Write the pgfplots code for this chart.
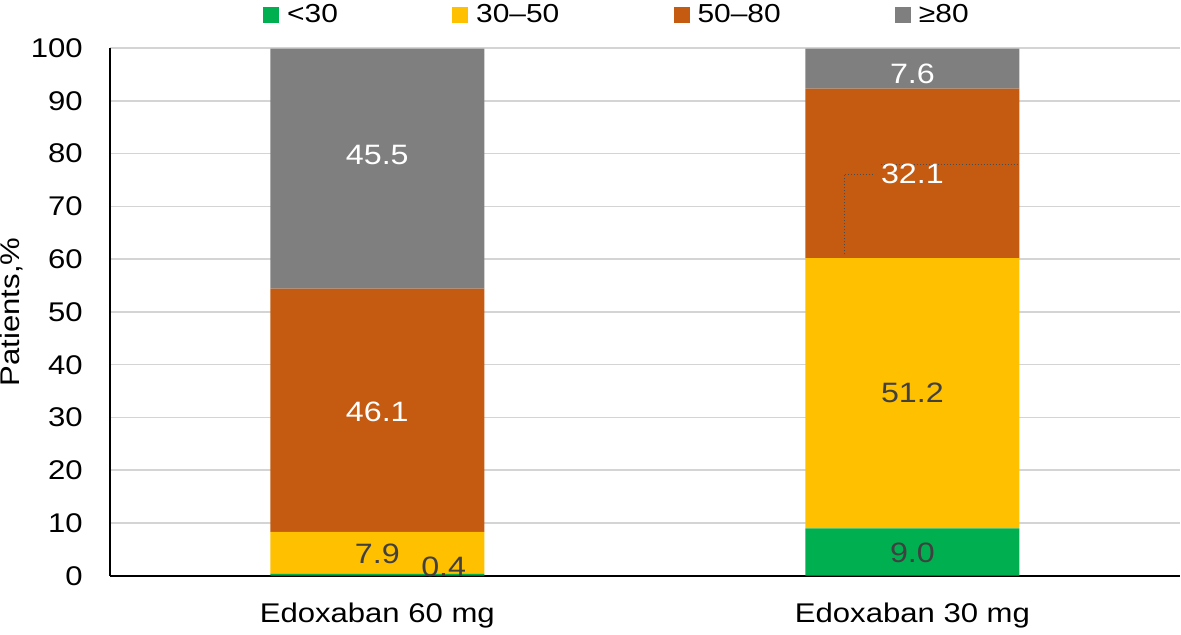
\documentclass[border=0pt]{standalone}
\usepackage{fontspec}
\setmainfont[FakeStretch=1.15]{Liberation Sans}
\usepackage{pgfplots}
\pgfplotsset{compat=1.18}
\definecolor{cA}{HTML}{00B050}
\definecolor{cB}{HTML}{FFC000}
\definecolor{cC}{HTML}{C55A11}
\definecolor{cD}{HTML}{7F7F7F}
\definecolor{lbl}{HTML}{404040}
\pgfplotsset{mylegend/.style={legend image code/.code={\fill[##1] (0pt,-4pt) rectangle (8pt,4pt);}}}
\tikzset{dl/.style={font=\fontsize{14}{16}\selectfont}}
\begin{document}
\begin{tikzpicture}
\begin{axis}[
  scale only axis, width=534.5pt, height=263.5pt,
  ybar stacked, bar width=0.4,
  xmin=-0.5, xmax=1.5, ymin=0, ymax=100,
  xtick={0,1}, xticklabels={Edoxaban 60 mg, Edoxaban 30 mg},
  ytick={0,10,...,100},
  ymajorgrids, grid style={draw=black!17, line width=0.8pt},
  axis x line*=bottom, axis y line*=left,
  major tick length=0pt,
  axis line style={black, line width=1pt},
  tick label style={font=\fontsize{13.5}{15}\selectfont},
  /pgf/number format/assume math mode=true,
  yticklabel style={xshift=-10pt},
  xticklabel style={yshift=-10pt},
  ylabel={Patients,\%},
  ylabel style={at={(axis description cs:-0.1029,0.5)}, anchor=north, inner sep=0pt, font=\fontsize{13.5}{15}\selectfont},
  legend columns=-1,
  legend style={draw=none, fill=none, inner sep=0pt, at={(axis description cs:0.143,1)}, anchor=west, yshift=16.75pt,
    font=\fontsize{13}{15}\selectfont,
    /tikz/every even column/.append style={column sep=55pt},
    /tikz/every odd column/.append style={column sep=2pt}},
]
\addplot[fill=cA, draw=none, mylegend] coordinates {(0,0.4) (1,9.0)};
\addplot[fill=cB, draw=none, mylegend] coordinates {(0,7.9) (1,51.2)};
\addplot[fill=cC, draw=none, mylegend] coordinates {(0,46.1) (1,32.1)};
\addplot[fill=cD, draw=none, mylegend] coordinates {(0,45.5) (1,7.6)};
\legend{<30, 30–50, 50–80, ≥80}
\coordinate (d1) at (axis cs:0.873,60.9);
\coordinate (d2) at (axis cs:0.873,76.1);
\coordinate (d3) at (axis cs:0.93,76.1);
\coordinate (d4) at (axis cs:0.942,77.9);
\coordinate (d5) at (axis cs:1.197,77.9);
\coordinate (a1) at (axis cs:0,79.7);
\coordinate (a2) at (axis cs:0,31.1);
\coordinate (a3) at (axis cs:0,4.2);
\coordinate (a4) at (axis cs:0.124,1.7);
\coordinate (b1) at (axis cs:1,95.1);
\coordinate (b2) at (axis cs:1,76.1);
\coordinate (b3) at (axis cs:1,34.7);
\coordinate (b4) at (axis cs:1,4.4);
\end{axis}
\draw[densely dotted, black!70, line width=0.5pt] (d1) -- (d2) -- (d3);
\draw[densely dotted, black!70, line width=0.5pt] (d4) -- (d5);
\node[dl, text=white] at (a1) {45.5};
\node[dl, text=white] at (a2) {46.1};
\node[dl, text=lbl] at (a3) {7.9};
\node[dl, text=lbl] at (a4) {0.4};
\node[dl, text=white] at (b1) {7.6};
\node[dl, text=white] at (b2) {32.1};
\node[dl, text=lbl] at (b3) {51.2};
\node[dl, text=lbl] at (b4) {9.0};
\end{tikzpicture}
\end{document}
